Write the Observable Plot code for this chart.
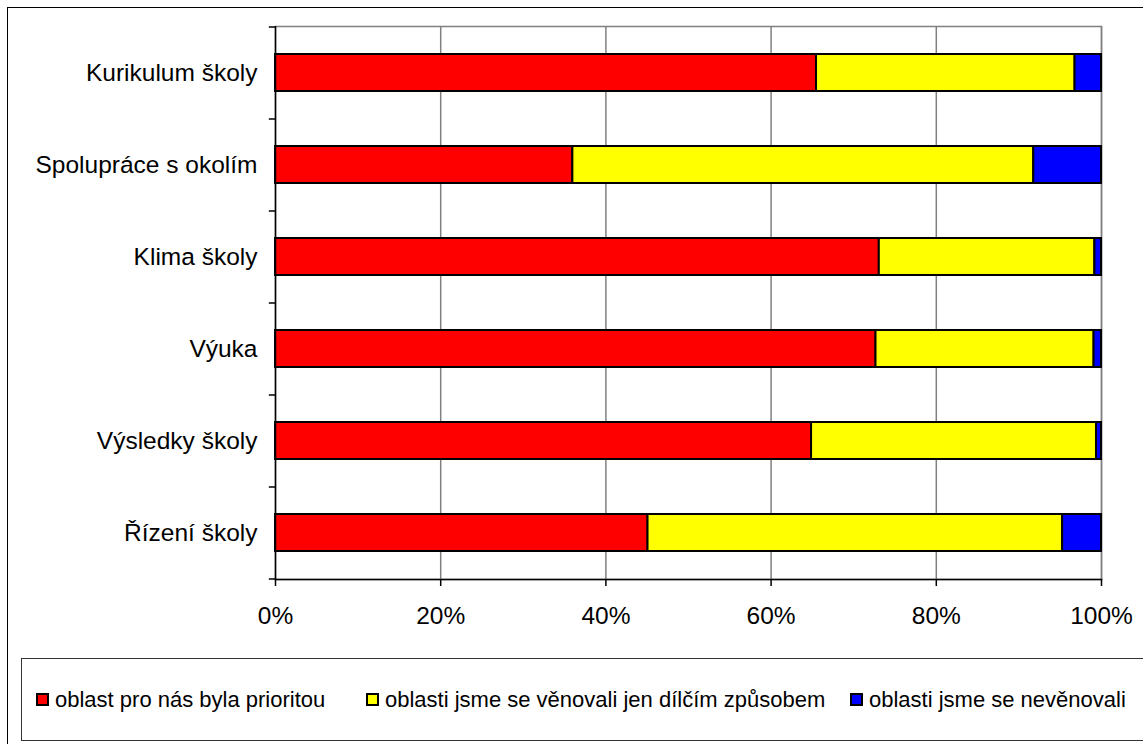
<!DOCTYPE html>
<html>
<head>
<meta charset="utf-8">
<script src="https://cdn.jsdelivr.net/npm/d3@7"></script>
<script src="https://cdn.jsdelivr.net/npm/@observablehq/plot@0.6"></script>
<style>
  html, body { margin: 0; padding: 0; background: #fff; overflow: hidden; }
  #wrap { position: relative; width: 1143px; height: 744px; font-family: "Liberation Sans", Arial, sans-serif; }
  #frame { position: absolute; left: 7px; top: 7px; width: 1160px; height: 760px; border: 1px solid #000; box-sizing: border-box; }
  #chart { position: absolute; left: 0; top: 0; }
  #legend { position: absolute; left: 21px; top: 658px; width: 1150px; height: 83px; border: 1px solid #333; box-sizing: border-box;
            font-size: 22px; color: #000; }
  .item { position: absolute; top: 0; height: 81px; display: flex; align-items: center; white-space: nowrap; }
  .sw { width: 9px; height: 9px; border: 2px solid #000; margin-right: 6px; }
</style>
</head>
<body>
<div id="wrap">
  <div id="frame"></div>
  <div id="chart"></div>
  <div id="legend"></div>
</div>
<script>
const categories = ["Kurikulum školy", "Spolupráce s okolím", "Klima školy", "Výuka", "Výsledky školy", "Řízení školy"];
const seriesNames = ["oblast pro nás byla prioritou", "oblasti jsme se věnovali jen dílčím způsobem", "oblasti jsme se nevěnovali"];
const seriesColors = ["#ff0000", "#ffff00", "#0000ff"];
const priority = [0.655, 0.360, 0.731, 0.727, 0.649, 0.451];
const partial  = [0.313, 0.558, 0.261, 0.264, 0.345, 0.502];
const notDone  = [0.032, 0.082, 0.008, 0.009, 0.006, 0.047];
const xTicks = [0, 0.2, 0.4, 0.6, 0.8, 1];
const legendLeft = [14, 344, 828];

const seriesValues = [priority, partial, notDone];
const rows = [];
seriesNames.forEach((s, si) => categories.forEach((c, ci) => rows.push({cat: c, series: s, order: si, value: seriesValues[si][ci]})));

const chart = Plot.plot({
  width: 1143,
  height: 650,
  marginLeft: 275,
  marginRight: 42,
  marginTop: 26,
  marginBottom: 71,
  style: {fontFamily: "'Liberation Sans', Arial, sans-serif", background: "transparent", color: "#000"},
  x: {domain: [0, 1]},
  y: {domain: categories, paddingInner: 0.6, paddingOuter: 0.3},
  color: {domain: seriesNames, range: seriesColors},
  marks: [
    Plot.frame({stroke: "#808080", strokeWidth: 1.5}),
    Plot.ruleX(xTicks.slice(1), {stroke: "#808080", strokeWidth: 1.5}),
    Plot.barX(rows, Plot.stackX({x: "value", y: "cat", fill: "series", order: seriesNames, stroke: "#000", strokeWidth: 2})),
    Plot.ruleX([0], {stroke: "#000", strokeWidth: 1.5}),
    Plot.frame({anchor: "bottom", stroke: "#000", strokeWidth: 1.5}),
    Plot.ruleY(categories, {y: d => d, dy: -46, x1: -0.0075, x2: 0, stroke: "#000", strokeWidth: 1.5}),
    Plot.ruleY([categories[categories.length - 1]], {y: d => d, dy: 46, x1: -0.0075, x2: 0, stroke: "#000", strokeWidth: 1.5}),
    Plot.axisX({ticks: xTicks, tickFormat: d => Math.round(d * 100) + "%", tickSize: 7, tickPadding: 20, fontSize: 24.5, label: null, strokeWidth: 1.5}),
    Plot.axisY({tickSize: 0, tickPadding: 18, fontSize: 24.5, label: null})
  ]
});
document.getElementById("chart").appendChild(chart);

const legend = document.getElementById("legend");
seriesNames.forEach((s, i) => {
  const it = document.createElement("div");
  it.className = "item";
  it.style.left = legendLeft[i] + "px";
  const sw = document.createElement("div");
  sw.className = "sw";
  sw.style.background = seriesColors[i];
  const t = document.createElement("span");
  t.textContent = s;
  it.appendChild(sw);
  it.appendChild(t);
  legend.appendChild(it);
});
</script>
</body>
</html>
